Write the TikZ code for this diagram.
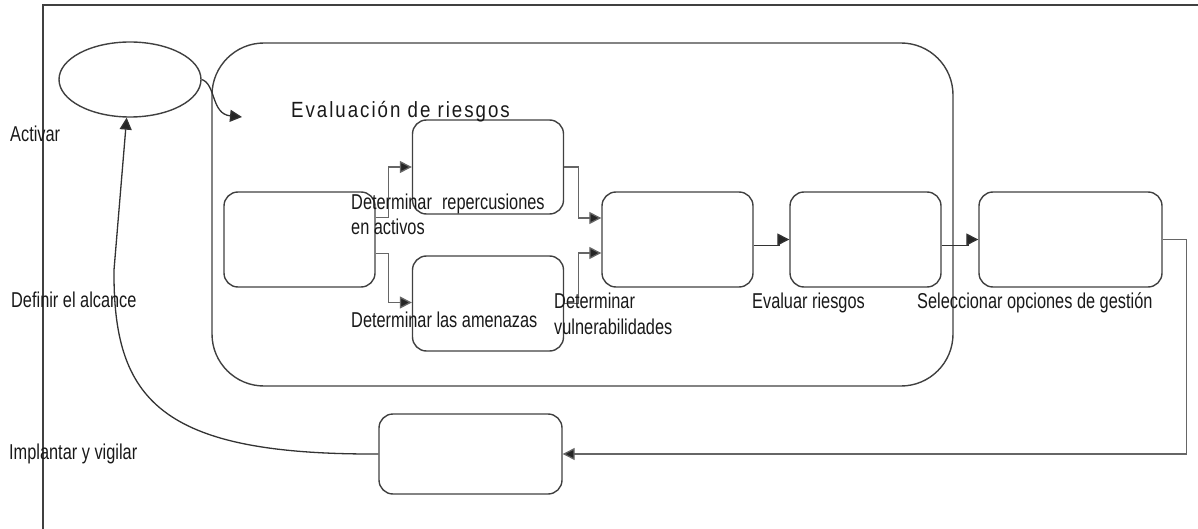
\documentclass[tikz,border=0pt]{standalone}
\usepackage{fontspec}
\usetikzlibrary{arrows.meta,shapes.geometric,calc}
\newfontfamily\nf[FakeStretch=0.76]{Liberation Sans}
\newfontfamily\tf[FakeStretch=0.85,LetterSpace=9]{Liberation Sans}
\begin{document}
\begin{tikzpicture}[x=1pt,y=-1pt,
  box/.style={draw=black!75, line width=1.4pt, rounded corners=14pt, inner sep=0pt, minimum width=151pt, minimum height=95pt},
  lbl/.style={anchor=base west, inner sep=0pt, text=black!90, font=\nf\fontsize{21.5}{24}\selectfont},
  conn/.style={draw=black!60, line width=1.3pt, -{Triangle[length=12pt,width=12pt,fill=black!85]}},
  dconn/.style={conn, draw=black!80}]
\useasboundingbox (0,0) rectangle (1198,529);
% frame
\draw[black!75, line width=1.3pt] (1198,5) -- (43,5) -- (43,529);
% big container
\node[draw=black!75, line width=1.4pt, rounded corners=52pt, minimum width=741pt, minimum height=343pt, inner sep=0pt] (big) at (582.5,214.5) {};
% ellipse
\node[ellipse, draw=black!75, line width=1.4pt, minimum width=142pt, minimum height=75pt, inner sep=0pt] (e) at (130,79.5) {};
% boxes
\node[box] (A) at (299.5,239.5) {};
\node[box, minimum height=94pt] (B) at (488,167) {};
\node[box] (C) at (488,303.5) {};
\node[box] (D) at (677.5,239.5) {};
\node[box] (E) at (865.5,239.5) {};
\node[box, minimum width=183pt] (F) at (1070.5,239.5) {};
\node[box, minimum width=183pt, minimum height=80pt] (G) at (470.5,454) {};
\coordinate (t1) at (242,117);
% connectors
\draw[dconn] (e.east) .. controls (216,84) and (211,114) .. (t1);
\draw[conn] ([yshift=22pt]A.east) -- ++(13,0) |- (B.west);
\draw[conn] ([yshift=-14pt]A.east) -- ++(13,0) |- ([yshift=1pt]C.west);
\draw[conn] (B.east) -- ++(14,0) |- ([yshift=21.5pt]D.west);
\draw[conn] (C.east) -- ++(14,0) |- ([yshift=-13.5pt]D.west);
\draw[dconn] ([yshift=-6pt]D.east) -- ++(26,0) |- (E.west);
\draw[dconn] ([yshift=-6pt]E.east) -- ++(27,0) |- (F.west);
\draw[conn] (F.east) -- ++(24,0) |- (G.east);
\draw[dconn] (G.west) .. controls (160,455) and (113,400) .. (114,270) -- (e.265);
% title
\node[anchor=base west, inner sep=0pt, text=black!90, font=\tf\fontsize{22}{26}\selectfont] (title) at (291,118) {Evaluación de riesgos};
% labels
\node[lbl] (l1) at (10,142) {Activar};
\node[lbl] (l2) at (11,307) {Definir el alcance};
\node[lbl] (l3) at (9,459) {Implantar y vigilar};
\node[lbl] (l4) at (351,210) {Determinar\hspace{10pt}repercusiones};
\node[lbl] (l5) at (351,235) {en activos};
\node[lbl] (l6) at (351,327) {Determinar las amenazas};
\node[lbl] (l7) at (554,308) {Determinar};
\node[lbl] (l8) at (554,334) {vulnerabilidades};
\node[lbl] (l9) at (752,308) {Evaluar riesgos};
\node[lbl] (l10) at (917,308) {Seleccionar opciones de gestión};
\end{tikzpicture}
\end{document}
